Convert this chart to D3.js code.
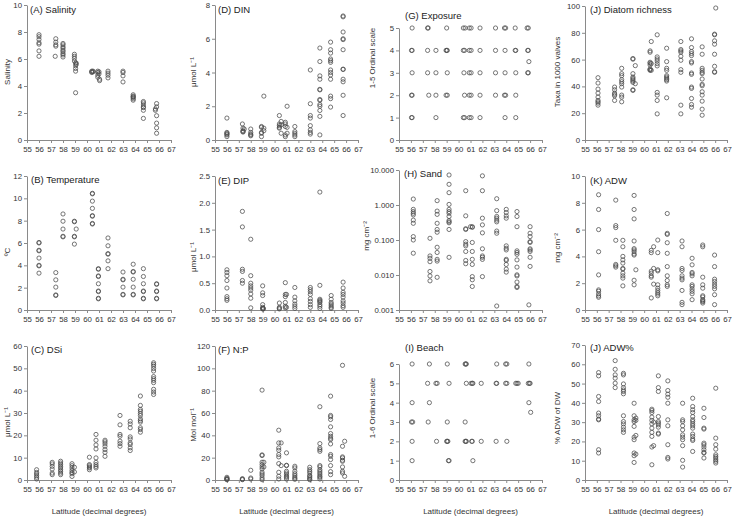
<!DOCTYPE html>
<html><head><meta charset="utf-8">
<script src="https://cdn.jsdelivr.net/npm/d3@7"></script>
<style>body{margin:0;background:#fff}svg{display:block}</style>
</head><body>
<svg id="c" width="739" height="519"></svg>
<script>
// ---- data: [latitude, [values at that latitude]] ----
const latTicks = d3.range(55, 68);

const salinity = [
  [56.0,[7.8,7.65,7.45,7.2,7.1,6.6,6.2]],
  [57.4,[7.5,7.25,7.05,6.95]],[57.35,[6.2]],
  [58.0,[7.15,7.05,6.9,6.8,6.65,6.55,6.4,6.3,6.15]],
  [58.95,[6.35,6.2,6.05,5.85]],[59.05,[5.7,5.5,5.3,5.1,3.5]],[59.1,[5.7,5.6]],
  [60.4,[5.1,5.05,5.0]],[60.5,[5.1,5.05]],
  [60.9,[5.1,5.0,4.8,4.65]],[61.0,[5.05,4.9]],[61.05,[4.5,4.4]],
  [61.75,[5.1,4.95,4.8,4.6]],
  [63.0,[5.1,5.0,4.75,4.3]],
  [63.85,[3.35,3.25,3.2,3.15,3.05,2.95]],
  [64.7,[2.85,2.75,2.6,2.45,2.4,2.2,1.6]],
  [65.7,[2.3,2.2]],[65.8,[2.7,2.45,1.8,1.25,0.9,0.5]]
];
const din = [
  [56.0,[1.3,0.45,0.4,0.35,0.3,0.2]],
  [57.3,[0.95]],[57.35,[0.7,0.55,0.5,0.47]],[57.45,[0.65]],
  [58.0,[0.65,0.45,0.35,0.3,0.25]],
  [58.9,[0.8,0.75,0.45,0.4,0.2]],[59.1,[2.6,0.7,0.55]],
  [60.4,[1.45,0.95,0.85,0.75,0.7]],[60.55,[1.1,0.9,0.4]],
  [60.9,[1.05,0.95,0.8,0.3,0.2]],[61.05,[2.0,0.4,0.75]],
  [61.7,[0.8,0.5,0.4,0.3,0.2]],
  [63.0,[4.15,2.15,1.45,1.3,0.85,0.6,0.45,0.35]],
  [63.8,[5.45,4.65,3.8,3.6,3.0,2.97,2.4,2.35,2.1,2.0,1.75,1.4,0.3]],
  [64.7,[5.8,5.35,5.15,4.8,4.7,4.6,4.15,4.0,3.85,3.6,2.6,2.45,1.95]],
  [65.75,[7.35,7.3,6.4,6.0,5.95,5.35,4.2,4.18,3.6,3.45,2.65,1.45]]
];
const exposure = [
  [5,[56.1,57.4,57.45,59.0,60.4,60.55,60.9,61.05,61.8,63.1,63.85,63.95,64.75,65.75,65.85]],
  [4,[56.05,56.1,57.4,58.1,58.95,59.0,59.05,60.4,60.5,60.9,61.05,61.8,63.1,63.9,64.75,64.8,65.8,65.85]],
  [3,[56.1,57.4,58.1,59.05,60.45,60.9,61.05,61.8,63.1,63.9,64.8,65.8,65.85]],
  [2,[56.05,56.1,57.5,58.1,58.95,59.05,60.5,60.9,61.05,61.8,63.1,63.85,63.95,64.8]],
  [1,[56.05,56.1,58.1,60.4,60.5,60.9,61.05,61.8,63.9,64.8]],
  [3.5,[65.9]]
];
const diatom = [
  [56.1,[46.5,42.5,38,35,32,29.5,28.5,27.5,26]],
  [57.5,[39.5,37.5,35,34,33,29.5]],
  [58.1,[53.5,49.5,48,45,43.5,42,39.5,33.5,32,28.5]],
  [59.05,[60.8,60.3,49.5,47,46,45,44,43,37.5,37]],[59.25,[55.5,42]],
  [60.5,[65.5,66.5,58,57.3,56,53,52.5,52]],[60.6,[73.5,57,52]],
  [61.1,[78.5,62,60.5,59,57,55.3,35.5,33.5,29.5,19.5]],
  [61.9,[68.5,58.5,53.5,52,48,47,46,45,44,31.5]],
  [63.1,[73.5,67.5,66.5,65.5,62.5,59.5,52.5,50.5,26,19.5]],
  [64.0,[75.5,69,66,64.5,63,58.5,57.5,50,49,39.5,38.5,31,26.5,24.5]],
  [64.9,[69.5,64,53.5,52,50.5,49.5,45.5,41.5,40.5,36,33.5,29,23,18.5]],
  [65.95,[79,78.5,74,71.5,64,55,51,50.5]],[66.05,[98.5]]
];
const temperature = [
  [56.0,[6.05,6.0,5.35,5.3,4.65,4.0,3.95,3.3]],
  [57.4,[3.35,2.7,2.05,1.35,1.3]],
  [58.0,[8.6,7.95,7.25,6.6,6.55]],
  [58.95,[7.95,7.9,6.6,6.55,5.9]],[59.1,[7.25]],
  [60.45,[10.45,10.4,9.75,9.1,8.45,8.4,7.75,7.7]],
  [60.95,[3.7,3.65,3.0,3.05,2.35,1.7,1.65,1.0,1.05]],
  [61.75,[6.45,5.75,5.05,5.0,4.4,3.7]],
  [63.0,[3.4,2.75,2.7,2.05,1.4,1.35]],
  [63.85,[4.1,3.45,3.4,2.75,2.05,1.4,1.35]],
  [64.7,[3.7,3.0,2.35,1.7,1.65,1.05,1.0]],
  [65.8,[2.35,2.3,1.7,1.65,1.05,1.0]]
];
const dip = [
  [56.0,[0.75,0.7,0.64,0.55,0.41,0.25,0.21,0.18]],
  [57.3,[1.84,1.55,0.76,0.72,0.55,0.5]],
  [58.0,[1.32,0.64,0.5,0.45,0.41,0.37,0.3,0.22,0.04]],
  [59.0,[0.45,0.32,0.27,0.1,0.05,0.03,0.02]],[59.05,[0.03,0.02]],
  [60.4,[0.13,0.05,0.03,0.02]],
  [60.9,[0.51,0.29,0.25,0.14,0.07,0.04]],[61.0,[0.29,0.05]],
  [61.7,[0.42,0.24,0.17,0.11,0.07,0.03]],
  [63.0,[0.42,0.38,0.34,0.29,0.21,0.16,0.1,0.05]],
  [63.8,[2.2,0.46,0.2,0.18,0.16,0.14,0.1,0.07,0.03]],
  [64.75,[0.27,0.2,0.14,0.11,0.08,0.05,0.03]],
  [65.75,[0.52,0.41,0.33,0.29,0.24,0.17,0.13,0.08,0.05]]
];
const sand = [
  [56.2,[1.48,0.75,0.65,0.58,0.52,0.37,0.30,0.125,0.10,0.042]],
  [57.6,[0.112,0.035,0.030,0.024,0.0126,0.0094,0.0068]],
  [58.2,[1.33,0.67,0.54,0.30,0.20,0.167,0.062,0.044,0.028,0.025,0.0086]],
  [59.2,[7.2,3.9,2.25,1.04,0.75,0.65,0.58,0.47,0.36,0.33,0.31,0.2,0.032]],
  [60.6,[2.56,0.49,0.21,0.2,0.09,0.076,0.068,0.047,0.026,0.021]],
  [61.15,[0.24,0.23,0.085,0.047,0.028,0.02,0.009,0.0073,0.0047]],[61.0,[0.24]],
  [62.0,[6.8,2.56,0.42,0.27,0.16,0.056,0.035,0.032,0.028,0.009]],
  [63.2,[1.51,0.69,0.47,0.42,0.37,0.33,0.18,0.156,0.0013]],
  [64.0,[0.75,0.61,0.49,0.42,0.068,0.058,0.052,0.028,0.026,0.02,0.0147,0.0121]],
  [64.9,[0.65,0.47,0.24,0.049,0.044,0.039,0.027,0.0168,0.0101,0.0094,0.0063,0.0047,0.0044]],
  [66.0,[0.24,0.156,0.125,0.09,0.085,0.056,0.052,0.047,0.032,0.0176]],[65.9,[0.0014]]
];
const adw = [
  [56.15,[8.6,7.5,6.0,4.35,2.62,1.5,1.4,1.2,1.05,0.95]],
  [57.6,[8.2,6.3,6.15,5.2,3.4,3.3,3.2]],
  [58.2,[5.2,4.72,4.0,3.74,3.5,3.1,3.05,2.75,2.55,2.38,1.8]],
  [59.15,[8.55,7.5,6.8,5.15,4.58,4.48,4.35,4.18,4.1,2.22,1.88]],[59.3,[3.0]],
  [60.6,[4.45,4.28,2.9,2.75,2.55,2.45,0.9]],[60.8,[4.72,3.1,1.93]],
  [61.15,[5.22,4.28,3.0,2.92,1.88,1.63,1.46,1.31,1.19,1.06]],
  [61.95,[7.2,5.72,5.64,5.02,4.23,3.24,2.55,2.2,1.88,1.76]],
  [63.2,[5.15,4.72,3.1,2.95,2.55,2.38,2.25,1.46,0.57,0.4]],
  [64.05,[3.86,3.37,2.8,2.7,2.55,1.88,1.76,1.56,1.39,1.21,0.77]],
  [64.95,[4.85,4.72,2.45,1.88,1.63,1.06,0.97,0.77,0.69,0.62,0.52]],
  [65.95,[4.1,3.24,2.3,2.13,1.93,1.76,1.58,1.14,0.4]]
];
const dsi = [
  [55.8,[4.6,3.4,2.7,1.95,1.2,0.45]],
  [57.1,[7.9,7.2,6.1,4.9,3.1,2.4]],
  [57.8,[8.4,7.6,6.9,6.1,5.4,4.6,3.9,3.1,2.4]],
  [58.75,[7.3,6.4,5.4,4.3,3.4,2.8,1.6]],[58.95,[5.7,3.6]],
  [60.2,[10.2,6.9,6.4,5.8,5.4,4.6]],
  [60.75,[20.4,17.8,15.7,13.9,9.9,7.9,6.9,6.1,5.4]],
  [61.5,[17.8,17.1,16.2,15.1,13.6,12.4,10.6]],
  [62.75,[28.9,24.7,20.4,19.6,17.4,16.3,15.1]],
  [63.6,[26.3,25.1,23.4,19.3,18.4,16.6,15.9,14.4,13.2]],
  [64.45,[37.6,33.4,31.6,30.8,29.8,28.9,27.4,26.6,25.9,23.4,22.6,21.4]],
  [65.55,[52.5,51.8,51.0,49.9,48.8,46.3,45.4,44.6,43.6,40.6,39.4,38.3]]
];
const np = [
  [56.0,[2.4,1.5,0.9,0.3,0.6]],
  [57.3,[1.2,0.6,0.3]],
  [58.0,[8.7,1.8,0.9]],
  [58.95,[80.5,22.5,21.9,15.9,13.8,11.7,9.9,6.9,5.4,3.9,1.8,0.3]],[59.1,[15.9,11.7]],
  [60.35,[44.6,33.2,28.7,26.6,22.8,20.7,14.7,6.9,3.3,0.9]],[60.55,[33.2,12.9]],
  [61.0,[24.3,13.2,12.9,7.8,6.3,4.8,3.3,2.4,0.9]],
  [61.7,[12.3,10.8,7.8,5.7,4.2,2.7,1.5,0.6]],
  [62.95,[11.4,9.3,7.8,6.3,4.2,3.3,2.1,0.9,0.3]],
  [63.8,[65.6,32.6,28.7,27.2,25.7,12.9,11.7,9.3,7.8,6.3,4.8,3.3,2.4,0.9]],
  [64.7,[75.1,57.8,56.6,54.2,47.6,41.6,39.2,37.4,36.2,32.3,22.8,21.3,18.3,12.9,7.5,4.8]],
  [65.7,[102.7,30.2,20.7,19.8,17.7,16.8,11.7,7.8,6.3]],[65.88,[34.7,3.3]]
];
const beach = [
  [6,[56.1,57.55,59.05,60.55,60.6,60.65,63.2,63.95,64.05,65.9]],
  [5,[57.4,58.1,58.2,59.2,60.65,61.05,61.15,61.2,61.9,63.15,63.2,63.95,64.05,64.8,64.9,65.0,65.85,65.95,66.0]],
  [4,[56.1,57.55,65.9]],
  [3,[56.05,56.15,57.45,59.05,60.55]],
  [2,[56.1,58.15,59.0,59.05,59.1,60.55,60.6,60.65,61.1,61.15,61.9,63.15,64.05]],
  [1,[56.1,59.15,59.2,61.2]],
  [3.5,[66.05]]
];
const adwPct = [
  [56.15,[55.7,54,43.3,40.7,34.7,33.3,31.6,31.2,15.7,14]],
  [57.55,[61.9,57.4,54.5,52.8,50.2,47.9]],
  [58.25,[55.3,54.5,49.8,47.9,46.7,45.9,44.7,33.3,30.3,29.1,27.4,26,24.7]],
  [59.15,[39.8,33.3,31.2,30.3,27.8,22.2,20.9,14,12.6,9.1]],[59.3,[32.1,30.9,23.1,13.4]],
  [60.65,[36.7,36,35,32.6,30.9,29.1,26.9,24.7,22.6,17.1,7.9]],[60.8,[17.8,30]],
  [61.2,[54,47.9,45.9,32.9,30.3,29.5,28.6,27.4,24.3,23.8]],
  [62.0,[51.4,46.4,44.5,42.9,39.8,31.2,28.1,18.3,11.7,10.9]],
  [63.25,[39.8,31.2,30.3,28.1,26,23.4,22.2,20.9,17.8,10.2,6.7]],
  [64.1,[42.4,38.1,36.4,35,32.9,31.2,30.3,29.1,28.1,26.9,23.8,22.6,21.2,20.5,14.8]],
  [65.05,[37.2,32.4,26.9,26.4,19.1,18.3,17.1,15.7,14.3,14,11.4]],
  [66.05,[47.6,21.7,18.3,16,13.1,12.2,11.4,10.5,9.7,8.8]]
];

// ---- helpers ----
const byLat = arr => arr.flatMap(([lat, vals]) => vals.map(v => [lat, v]));
const byLevel = arr => arr.flatMap(([lvl, lats]) => lats.map(l => [l, lvl]));

const svg = d3.select('#c');
const FONT = '"Liberation Sans", Arial, sans-serif';

function panel(o){
  const g = svg.append('g');
  const x = d3.scaleLinear().domain([55,67]).range([o.x0, o.x1]);
  const y = (o.log ? d3.scaleLog() : d3.scaleLinear()).domain(o.yDomain).range([o.yb, o.yt]);
  const ax = g.append('g').attr('transform',`translate(0,${o.yb})`)
    .call(d3.axisBottom(x).tickValues(latTicks).tickSize(3).tickSizeOuter(0).tickPadding(3).tickFormat(d3.format('d')));
  const ay = g.append('g').attr('transform',`translate(${o.x0},0)`)
    .call(d3.axisLeft(y).tickValues(o.yTicks).tickSize(3).tickSizeOuter(0).tickPadding(2).tickFormat(o.fmt));
  [ax, ay].forEach(a => {
    a.select('.domain').attr('stroke','#8a8a8a');
    a.selectAll('.tick line').attr('stroke','#8a8a8a');
    a.selectAll('text').attr('font-family',FONT).attr('font-size',7.8).attr('fill','#333');
  });
  g.append('g').selectAll('circle').data(o.data).join('circle')
    .attr('cx', d => x(d[0])).attr('cy', d => y(d[1])).attr('r', 2.1)
    .attr('fill','none').attr('stroke','#4a4a4a').attr('stroke-width',0.75);
  g.append('text').attr('x', o.tx).attr('y', o.ty).text(o.title)
    .attr('font-family',FONT).attr('font-size',9.5).attr('fill','#222');
  g.append('text').attr('transform',`translate(${o.lx},${o.ly}) rotate(-90)`)
    .attr('text-anchor','middle').text(o.ylabel)
    .attr('font-family',FONT).attr('font-size',8).attr('fill','#333');
}

const C = [[27,171],[215,358],[399,542],[585,727]];
const lin = (a,b,s) => d3.range(a, b + s/2, s);
const f0 = d3.format('d'), f1 = d3.format('.1f'), f3 = d3.format('.3f');

// Row 1
panel({data:byLat(salinity), x0:C[0][0], x1:C[0][1], yb:140, yt:5, yDomain:[0,10], yTicks:lin(0,10,2), fmt:f0,
  title:'(A) Salinity', tx:30, ty:13, ylabel:'Salinity', lx:10, ly:72});
panel({data:byLat(din), x0:C[1][0], x1:C[1][1], yb:140, yt:5, yDomain:[0,8], yTicks:lin(0,8,2), fmt:f0,
  title:'(D) DIN', tx:218, ty:13, ylabel:'μmol L⁻¹', lx:196, ly:72});
panel({data:byLevel(exposure), x0:C[2][0], x1:C[2][1], yb:140, yt:28, yDomain:[0,5], yTicks:lin(0,5,1), fmt:f0,
  title:'(G) Exposure', tx:405, ty:19, ylabel:'1-5 Ordinal scale', lx:375, ly:58});
panel({data:byLat(diatom), x0:C[3][0], x1:C[3][1], yb:140, yt:6, yDomain:[0,100], yTicks:lin(0,100,20), fmt:f0,
  title:'(J) Diatom richness', tx:590, ty:13, ylabel:'Taxa in 1000 valves', lx:560, ly:72});
// Row 2
panel({data:byLat(temperature), x0:C[0][0], x1:C[0][1], yb:310, yt:176, yDomain:[0,12], yTicks:lin(0,12,2), fmt:f0,
  title:'(B) Temperature', tx:31, ty:183, ylabel:'ºC', lx:10, ly:252});
panel({data:byLat(dip), x0:C[1][0], x1:C[1][1], yb:310, yt:176, yDomain:[0,2.5], yTicks:lin(0,2.5,0.5), fmt:f1,
  title:'(E) DIP', tx:218, ty:184, ylabel:'μmol L⁻¹', lx:196, ly:257});
panel({data:byLat(sand), x0:C[2][0], x1:C[2][1], yb:310, yt:170, log:true, yDomain:[0.001,10], yTicks:[0.001,0.01,0.1,1,10], fmt:f3,
  title:'(H) Sand', tx:404, ty:177, ylabel:'mg cm⁻²', lx:369, ly:236});
panel({data:byLat(adw), x0:C[3][0], x1:C[3][1], yb:310, yt:176, yDomain:[0,10], yTicks:lin(0,10,2), fmt:f0,
  title:'(K) ADW', tx:590, ty:184, ylabel:'mg cm⁻²', lx:560, ly:248});
// Row 3
panel({data:byLat(dsi), x0:C[0][0], x1:C[0][1], yb:480, yt:346, yDomain:[0,60], yTicks:lin(0,60,10), fmt:f0,
  title:'(C) DSi', tx:31, ty:353, ylabel:'μmol L⁻¹', lx:10, ly:422});
panel({data:byLat(np), x0:C[1][0], x1:C[1][1], yb:480, yt:346, yDomain:[0,120], yTicks:lin(0,120,20), fmt:f0,
  title:'(F) N:P', tx:218, ty:353, ylabel:'Mol mol⁻¹', lx:196, ly:425});
panel({data:byLevel(beach), x0:C[2][0], x1:C[2][1], yb:480, yt:364, yDomain:[0,6], yTicks:lin(0,6,1), fmt:f0,
  title:'(I) Beach', tx:405, ty:351, ylabel:'1-6 Ordinal scale', lx:375, ly:408});
panel({data:byLat(adwPct), x0:C[3][0], x1:C[3][1], yb:480, yt:345, yDomain:[0,70], yTicks:lin(0,70,10), fmt:f0,
  title:'(J) ADW%', tx:590, ty:351, ylabel:'% ADW of DW', lx:560, ly:418});

// x-axis titles
C.forEach(([a,b]) => {
  svg.append('text').attr('x',(a+b)/2).attr('y',514).attr('text-anchor','middle')
    .attr('font-family',FONT).attr('font-size',8).attr('fill','#333')
    .text('Latitude (decimal degrees)');
});
</script>
</body></html>
